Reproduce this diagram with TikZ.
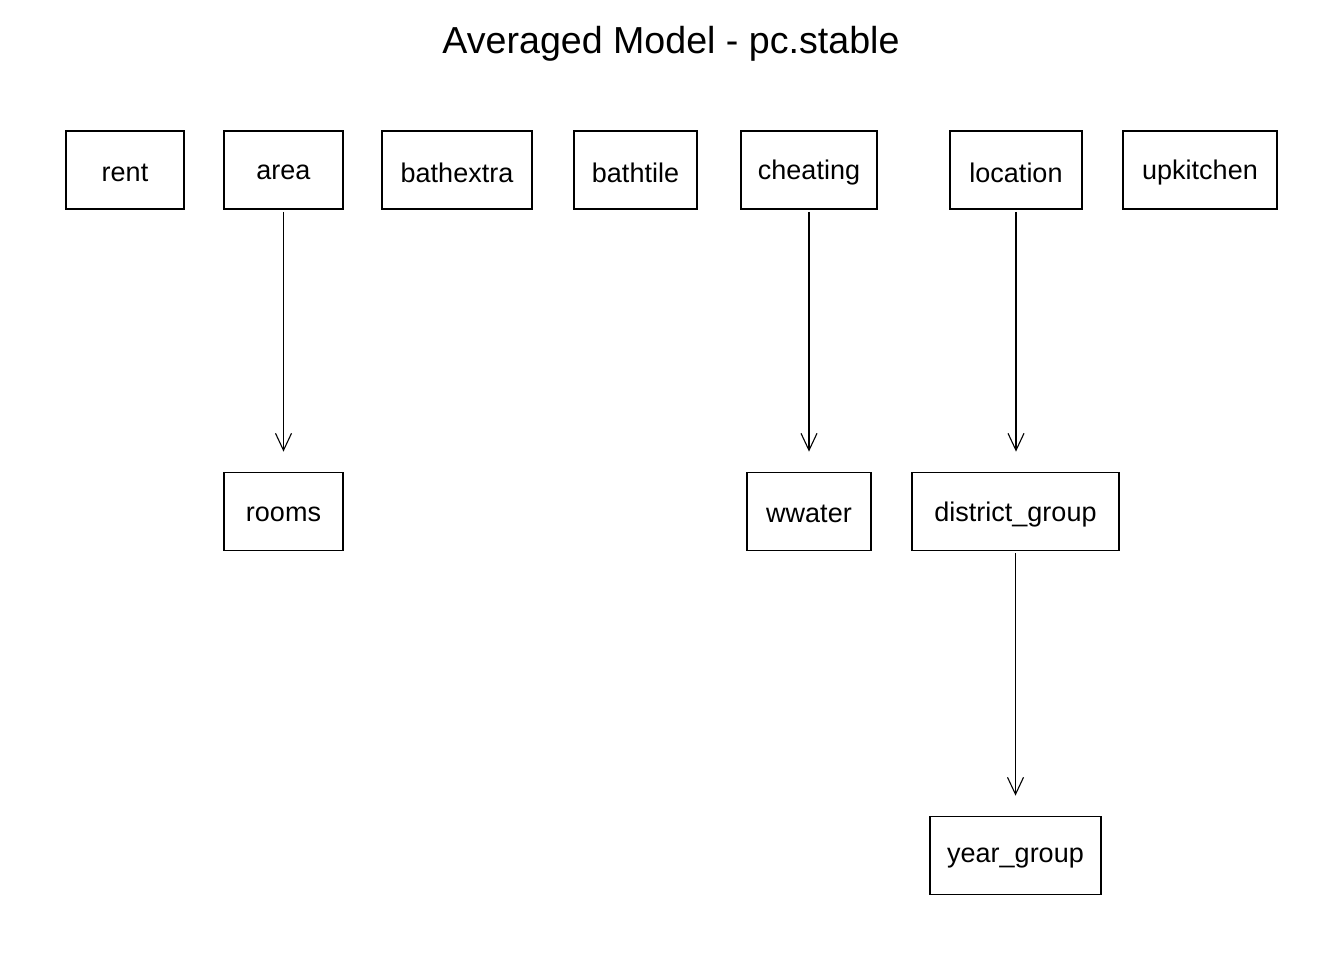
\documentclass[tikz,border=0pt]{standalone}
\usepackage{fontspec}
\setmainfont{Liberation Sans}
\usetikzlibrary{arrows.meta}
% lower the label ink a little while keeping the box dimensions
\newcommand\lbl[1]{\raisebox{-1.3pt}[\height][\depth]{#1}}
\begin{document}
\begin{tikzpicture}[x=1pt,y=1pt,
  var/.style={draw,line width=0.9pt,minimum height=39pt,inner sep=0pt,font=\fontsize{13.5}{16}\selectfont},
  edge/.style={line width=0.55pt,-{Straight Barb[length=8.5pt,width=8pt,line width=0.55pt]},shorten >=10pt,shorten <=1pt}]
\useasboundingbox (0,0) rectangle (672,-480);
\node[font=\fontsize{18.8}{22}\selectfont] (title) at (335.5,-22) {Averaged Model - pc.stable};
% top row
\node[var,minimum width=59pt]   (rent)      at (62.5,-85)  {\lbl{rent}};
\node[var,minimum width=59.5pt] (area)      at (141.75,-85) {\lbl{area}};
\node[var,minimum width=75pt]   (bathextra) at (228.5,-85) {\lbl{bathextra}};
\node[var,minimum width=61.5pt] (bathtile)  at (317.75,-85) {\lbl{bathtile}};
\node[var,minimum width=68pt]   (cheating)  at (404.5,-85) {\lbl{cheating}};
\node[var,minimum width=66pt]   (location)  at (508,-85)   {\lbl{location}};
\node[var,minimum width=77pt]   (upkitchen) at (600,-85)   {\lbl{upkitchen}};
% second row
\node[var,minimum width=59.5pt] (rooms)    at (141.75,-255.75) {\lbl{rooms}};
\node[var,minimum width=62pt]   (wwater)   at (404.5,-255.75)  {\lbl{wwater}};
\node[var,minimum width=103.5pt] (district) at (507.75,-255.75) {\lbl{district\_group}};
% third row
\node[var,minimum width=85.5pt] (year)     at (507.75,-427.75) {\lbl{year\_group}};
% edges
\draw[edge] (area) -- (rooms);
\draw[edge] (cheating) -- (wwater);
\draw[edge] (location.south) -- (location.south |- district.north);
\draw[edge] (district.south) -- (district.south |- year.north);
\end{tikzpicture}
\end{document}
